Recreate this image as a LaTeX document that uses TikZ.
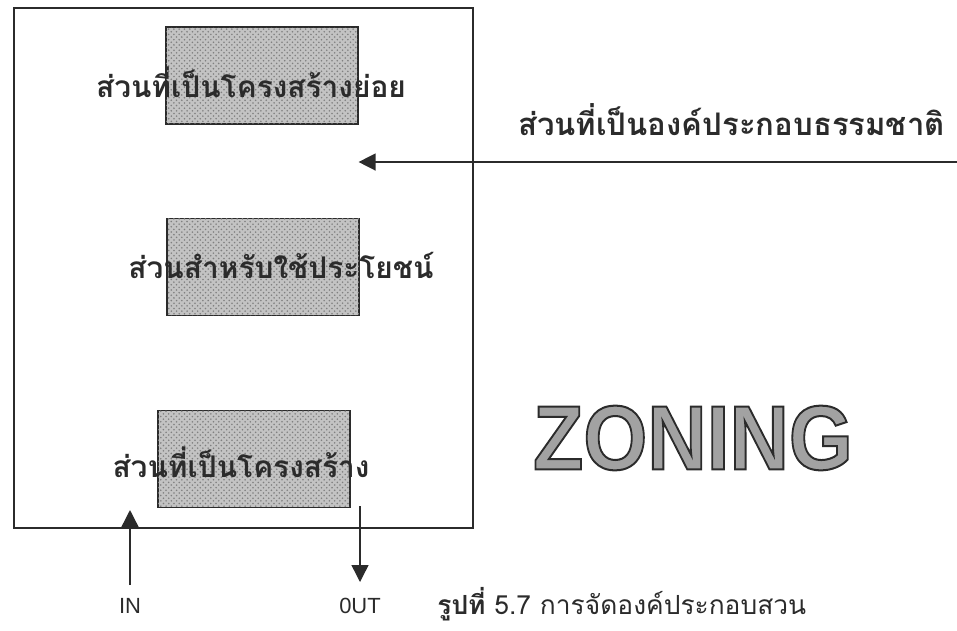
\documentclass[tikz,border=0pt]{standalone}
\usepackage{fontspec}
\usepackage{xcolor}
\usepackage{tikz}
\usetikzlibrary{arrows.meta, positioning, patterns}
\setmainfont{Liberation Sans}
\newfontfamily\thaifont[Script=Thai]{Loma}
\newfontfamily\zonefont[FakeBold=2.2]{Liberation Sans Bold}
\definecolor{ink}{HTML}{2b2b2b}
\definecolor{shade}{HTML}{b4b4b4}
\tikzset{
  zonebox/.style={rectangle, draw=ink, line width=0.7pt, fill=shade!80, minimum width=3.84cm, minimum height=1.94cm, postaction={pattern=crosshatch dots, pattern color=ink!60}},
  zonelabel/.style={font=\thaifont\bfseries\fontsize{17}{20}\selectfont, text=ink, inner sep=0pt},
  arrow/.style={-{Triangle[length=3.4mm, width=3.4mm]}, draw=ink, line width=0.8pt},
  flowtext/.style={font=\fontsize{12.5}{15}\selectfont, text=ink, inner sep=0pt},
}

\begin{document}
\begin{tikzpicture}[x=0.02cm, y=-0.02cm]
  \useasboundingbox (0,0) rectangle (957,630);

  \node (frame) [rectangle, draw=ink, line width=0.8pt, minimum width=9.18cm, minimum height=10.4cm] at (243.5,268) {};

  \node (sub) [zonebox] at (262,75.5) {};
  \node (use) [zonebox] at (263,267) {};
  \node (main) [zonebox] at (254,459) {};

  \node (sublbl) [zonelabel] at (251,82) {ส่วนที่เป็นโครงสร้างย่อย};
  \node (uselbl) [zonelabel] at (281,265) {ส่วนสำหรับใช้ประโยชน์};
  \node (mainlbl) [zonelabel] at (241,462) {ส่วนที่เป็นโครงสร้าง};

  \node (natlbl) [zonelabel, font=\thaifont\bfseries\fontsize{17.7}{20}\selectfont, anchor=east] at (945,120) {ส่วนที่เป็นองค์ประกอบธรรมชาติ};
  \coordinate (natsrc) at (957,162);

  \node (zoning) [font=\zonefont\fontsize{52}{60}\selectfont, text=shade!90!black, xscale=0.9, inner sep=0pt] at (693,438) {\special{pdf:code 0.17 G}ZONING};

  \coordinate (insrc) at (130,585);
  \coordinate (outsrc) at (360,506);
  \node (inlbl) [flowtext] at (130,606) {IN};
  \node (outlbl) [flowtext] at (360,606) {0UT};
  \node (caption) [anchor=west, font=\thaifont\fontsize{15}{18}\selectfont, text=ink, inner sep=0pt] at (437,604) {\textbf{รูปที่} 5.7 การจัดองค์ประกอบสวน};

  \draw [arrow] (natsrc) -- (sub.east |- natsrc);
  \draw [arrow] (insrc) -- ++(0,-75);
  \draw [arrow] (outsrc) -- ++(0,76);

\end{tikzpicture}
\end{document}
